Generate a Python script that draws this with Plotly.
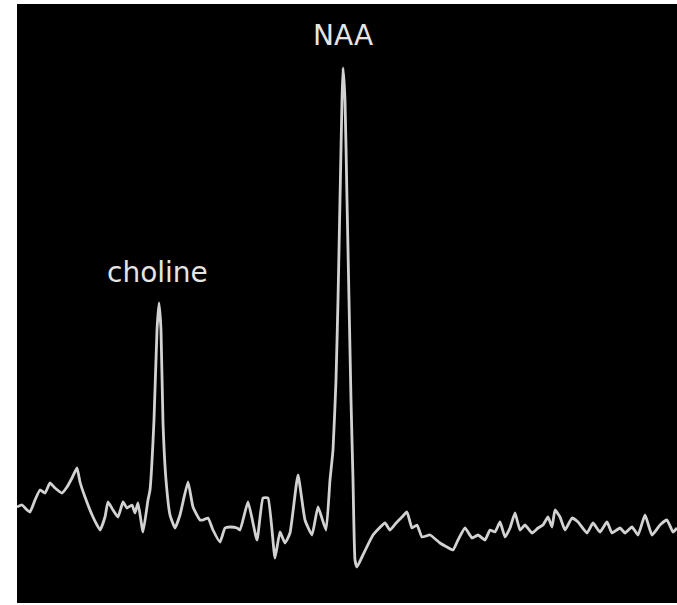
import plotly.graph_objects as go

# Spectrum trace: sample position along the frequency axis and signal amplitude (a.u.)
position = [0, 5, 10, 13, 18, 23, 28, 33, 38, 45, 50, 55, 60, 63, 68, 76, 83, 88, 91,
            96, 101, 106, 110, 115, 118, 121, 126, 131, 133, 137, 140, 142, 144, 146,
            149, 153, 158, 163, 171, 176, 183, 186, 191, 196, 203, 208, 213, 220, 223,
            231, 240, 246, 251, 258, 263, 268, 273, 281, 288, 295, 301, 309, 313, 316,
            319, 321, 323, 325, 326, 328, 330, 332, 334, 336, 338, 340, 345, 356, 368,
            373, 380, 385, 390, 395, 400, 405, 413, 423, 430, 436, 441, 448, 455, 461,
            468, 473, 478, 483, 488, 493, 498, 503, 508, 515, 521, 526, 531, 535, 538,
            543, 548, 555, 561, 570, 576, 583, 590, 595, 603, 608, 615, 621, 628, 635,
            643, 650, 656, 660]
amplitude = [96, 98, 93, 91, 103, 113, 110, 120, 115, 110, 116, 125, 135, 121, 106, 86,
             73, 86, 101, 93, 86, 101, 95, 98, 90, 100, 71, 103, 113, 183, 273, 300,
             273, 180, 123, 88, 75, 88, 121, 96, 83, 83, 85, 73, 61, 75, 76, 75, 73,
             101, 63, 105, 105, 45, 71, 60, 70, 128, 83, 68, 96, 73, 123, 153, 223,
             303, 403, 503, 535, 503, 403, 303, 203, 123, 43, 36, 46, 68, 80, 73, 81,
             86, 91, 75, 78, 66, 68, 60, 56, 53, 63, 75, 65, 68, 63, 73, 71, 81, 66,
             75, 90, 73, 78, 70, 75, 78, 86, 76, 93, 86, 73, 85, 81, 70, 80, 71, 81,
             70, 75, 70, 76, 68, 88, 68, 78, 83, 71, 75]

# Peak annotations: label, position, amplitude of the label anchor
labels = ["choline", "NAA"]
label_pos = [140, 326]
label_amp = [331, 568]

fig = go.Figure()
fig.add_trace(go.Scatter(
    x=position, y=amplitude, mode="lines",
    line=dict(color="#d2d2d2", width=2.8, shape="spline", smoothing=0.4),
    hoverinfo="skip", showlegend=False,
))

for text, xp, yp in zip(labels, label_pos, label_amp):
    fig.add_annotation(
        x=xp, y=yp, text=text, showarrow=False,
        font=dict(family="DejaVu Sans", size=28, color="#e4e4e4"),
        xanchor="center", yanchor="middle",
    )

fig.update_xaxes(range=[0, 660], visible=False, fixedrange=True)
fig.update_yaxes(range=[0, 599], visible=False, fixedrange=True)
fig.update_layout(
    width=677, height=605,
    margin=dict(l=17, r=0, t=4, b=2),
    paper_bgcolor="white", plot_bgcolor="black",
)

fig.write_html("out.html", config={"displayModeBar": False})
